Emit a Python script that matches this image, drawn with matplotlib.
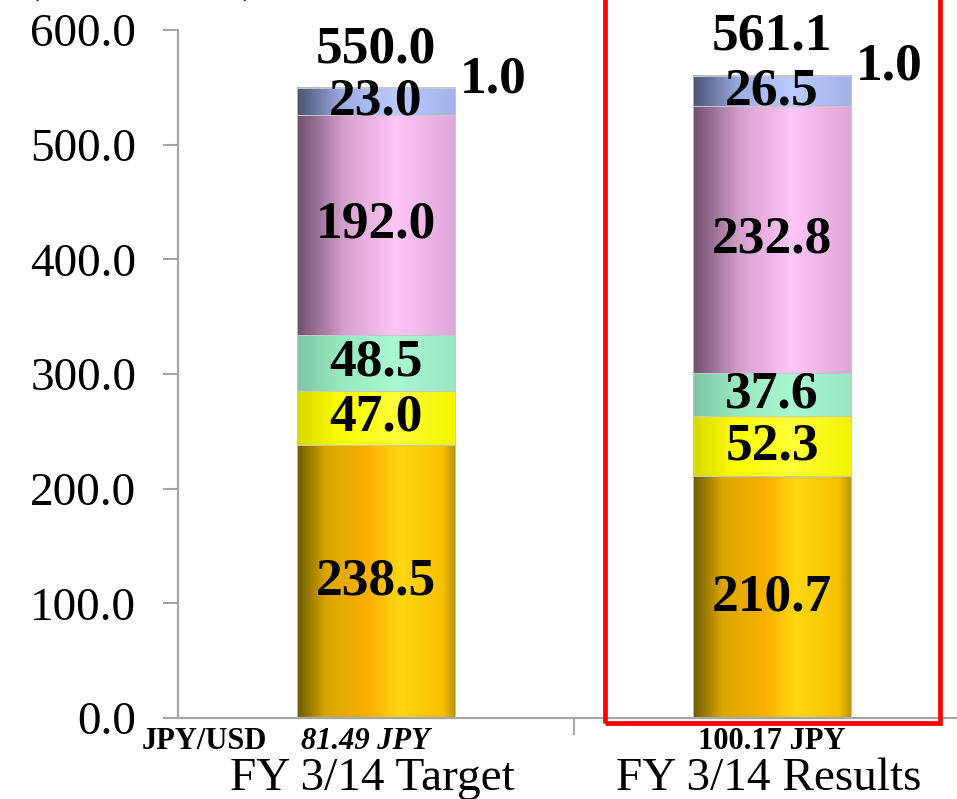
import numpy as np
import matplotlib
matplotlib.use("Agg")
import matplotlib.pyplot as plt
from matplotlib.colors import LinearSegmentedColormap
from matplotlib.patches import Rectangle
from matplotlib.ticker import FormatStrFormatter

plt.rcParams["font.family"] = ["Liberation Serif", "DejaVu Serif"]

# ---- data -------------------------------------------------------------
categories = ["FY 3/14 Target", "FY 3/14 Results"]
fx_rates = ["81.49 JPY", "100.17 JPY"]
seg_orange = [238.5, 210.7]
seg_yellow = [47.0, 52.3]
seg_green = [48.5, 37.6]
seg_pink = [192.0, 232.8]
seg_blue = [23.0, 26.5]
seg_top = [1.0, 1.0]
totals = [550.0, 561.1]
y_ticks = [0, 100, 200, 300, 400, 500, 600]

# cylinder-like shading stops per segment: (position, colour)
shades = [
    [(0.0, "#6e5a00"), (0.18, "#d9a600"), (0.45, "#fbb000"), (0.65, "#ffd814"),
     (0.92, "#f8c000"), (1.0, "#b89000")],
    [(0.0, "#d8d800"), (0.25, "#fbfb00"), (0.62, "#ffff38"), (1.0, "#f4f400")],
    [(0.0, "#7ec4a4"), (0.25, "#96e6be"), (0.62, "#aaf8d2"), (1.0, "#98e6c2")],
    [(0.0, "#70506e"), (0.30, "#d6a0ce"), (0.62, "#ffc6f8"), (1.0, "#dea6d8")],
    [(0.0, "#4c5474"), (0.30, "#9eaee6"), (0.62, "#bccaff"), (1.0, "#a2b2ea")],
    [(0.0, "#606070"), (0.30, "#b0b0c8"), (0.62, "#d0d0e8"), (1.0, "#b4b4cc")],
]
segments = [seg_orange, seg_yellow, seg_green, seg_pink, seg_blue, seg_top]

fig = plt.figure(figsize=(9.57, 7.99), dpi=100)
ax = fig.add_axes([178 / 957, 81 / 799, 792 / 957, 688 / 799])

x = np.arange(len(categories))
width = 0.4
bottom = np.zeros(len(categories))
grad = np.linspace(0, 1, 256)[None, :]

for seg, stops in zip(segments, shades):
    vals = np.array(seg)
    bars = ax.bar(x, vals, width, bottom=bottom, color="none",
                  edgecolor="#c8c8c8", linewidth=0.6, zorder=3)
    cmap = LinearSegmentedColormap.from_list("cyl", stops)
    for patch in bars.patches:
        x0, y0 = patch.get_x(), patch.get_y()
        w, h = patch.get_width(), patch.get_height()
        im = ax.imshow(grad, cmap=cmap, aspect="auto", interpolation="bicubic",
                       extent=[x0, x0 + w, y0, y0 + h], zorder=2)
        im.set_clip_path(patch)
    bottom = bottom + vals

ax.set_xlim(-0.5, 1.5)
ax.set_ylim(0, 600)

# value labels inside the segments
label_kw = dict(ha="center", va="center", fontsize=38.5, fontweight="bold",
                color="black", zorder=5)
bottom = np.zeros(len(categories))
for seg in segments[:-1]:
    vals = np.array(seg)
    for xi, b, v in zip(x, bottom, vals):
        ax.text(xi, b + v / 2, f"{v:.1f}", **label_kw)
    bottom = bottom + vals

# small top segment labelled beside the bar
for xi, b, v in zip(x, bottom, seg_top):
    ax.text(xi + width / 2 + 0.012, b + v + 7, f"{v:.1f}", ha="left",
            va="center", fontsize=38.5, fontweight="bold", zorder=5)

# totals above the bars
for xi, t, b, v in zip(x, totals, bottom, seg_top):
    ax.text(xi, b + v + 22, f"{t:.1f}", ha="center", va="baseline",
            fontsize=38.5, fontweight="bold", zorder=5)

# axes styling
for side in ("top", "right"):
    ax.spines[side].set_visible(False)
for side in ("left", "bottom"):
    ax.spines[side].set_color("#a6a6a6")
    ax.spines[side].set_linewidth(1.6)

ax.set_yticks(y_ticks)
ax.yaxis.set_major_formatter(FormatStrFormatter("%.1f"))
ax.tick_params(axis="y", direction="out", length=11, width=1.5,
               color="#a6a6a6", pad=19, labelsize=34)
ax.set_xticks([])
ax.set_xticks([0.5], minor=True)
ax.tick_params(axis="x", which="minor", direction="out", length=12,
               width=1.5, color="#a6a6a6")

# exchange-rate row and category names
ax.text(-0.591, -27, "JPY/USD", ha="left", va="baseline", fontsize=22,
        fontweight="bold", clip_on=False)
ax.text(-0.028, -27, fx_rates[0], ha="center", va="baseline", fontsize=22,
        fontweight="bold", fontstyle="italic", clip_on=False)
ax.text(1.0, -27, fx_rates[1], ha="center", va="baseline", fontsize=22,
        fontweight="bold", clip_on=False)
for xi, name in zip([-0.008, 0.992], categories):
    ax.text(xi, -63, name, ha="center", va="baseline", fontsize=34,
            clip_on=False)

# unit caption at the very top edge
fig.text(25 / 957, 1.011, "(Billion Yen)", ha="left", va="baseline",
         fontsize=32)

# highlight frame around the results column
ax.add_patch(Rectangle((0.578, -4.4), 0.846, 700, fill=False,
                       edgecolor="#ff0000", linewidth=3.4, clip_on=False,
                       zorder=6))

fig.savefig("out.png", dpi=100)
